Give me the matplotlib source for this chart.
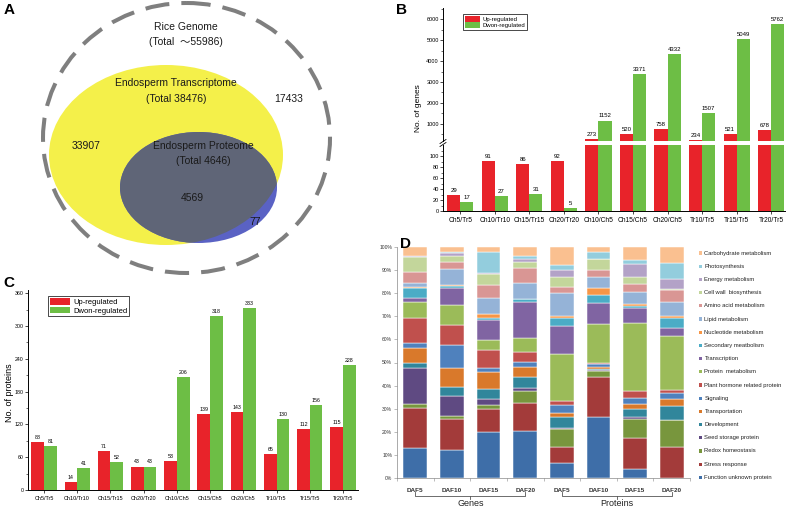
import numpy as np
import matplotlib.pyplot as plt
from matplotlib.patches import Ellipse, Rectangle
from matplotlib.ticker import MultipleLocator, FixedLocator
from matplotlib.transforms import blended_transform_factory

plt.rcParams['font.family'] = ['Liberation Sans', 'DejaVu Sans', 'Noto Sans CJK SC']

# ---- panel A: venn counts
genome_total = '55986'
transcriptome_total = '38476'
proteome_total = '4646'
genome_only = '17433'
transcript_only = '33907'
shared = '4569'
proteome_only = '77'

# ---- panel B / C: differential counts
comparisons = ['Ch5/Tr5', 'Ch10/Tr10', 'Ch15/Tr15', 'Ch20/Tr20', 'Ch10/Ch5',
               'Ch15/Ch5', 'Ch20/Ch5', 'Tr10/Tr5', 'Tr15/Tr5', 'Tr20/Tr5']
genes_up = [29, 91, 86, 92, 273, 520, 758, 234, 521, 678]
genes_down = [17, 27, 31, 5, 1152, 3371, 4332, 1507, 5049, 5762]
proteins_up = [88, 14, 71, 43, 53, 139, 143, 65, 112, 115]
proteins_down = [81, 41, 52, 43, 206, 318, 333, 130, 156, 228]

# ---- panel D: functional categories, bottom of the stack first
func_cats = ['Function unknown protein', 'Stress response', 'Redox homeostasis',
             'Seed storage protein', 'Development', 'Transportation', 'Signaling',
             'Plant hormone related protein', 'Protein  metabolism', 'Transcription',
             'Secondary meatbolism', 'Nucleotide metabolism', 'Lipid metabolism',
             'Amino acid metabolism', 'Cell wall  biosynthesis', 'Energy metabolism',
             'Photosynthesis', 'Carbohydrate metabolism']
stages = ['DAF5', 'DAF10', 'DAF15', 'DAF20', 'DAF5', 'DAF10', 'DAF15', 'DAF20']
genes_daf5 = [12.9, 17.3, 1.8, 15.5, 2.1, 6.8, 2.2, 10.8, 6.7, 2.0, 4.3, 0.3, 1.8, 4.6, 6.5, 0.3, 0.3, 3.8]
genes_daf10 = [12.1, 13.3, 1.6, 8.6, 3.9, 8.0, 10.1, 8.6, 8.7, 7.2, 1.1, 0.3, 7.0, 2.8, 2.9, 1.2, 0.3, 2.3]
genes_daf15 = [20.0, 9.7, 1.9, 2.5, 4.3, 7.6, 1.5, 7.9, 4.3, 8.7, 1.0, 1.5, 6.9, 5.7, 4.9, 0.2, 9.1, 2.3]
genes_daf20 = [20.3, 12.3, 5.2, 1.0, 5.1, 4.3, 2.1, 4.4, 6.0, 15.4, 1.3, 0.3, 6.8, 6.3, 2.8, 1.0, 1.5, 3.9]
prot_daf5 = [6.3, 7.3, 7.5, 0.5, 4.9, 1.8, 3.3, 1.7, 20.2, 12.3, 3.3, 1.0, 9.9, 2.8, 4.1, 3.1, 2.2, 7.8]
prot_daf10 = [26.3, 17.3, 2.7, 0.5, 0.4, 1.0, 1.2, 0.3, 16.9, 9.1, 3.6, 3.0, 4.8, 2.8, 4.8, 0.3, 3.0, 2.0]
prot_daf15 = [3.9, 13.6, 7.9, 1.1, 3.2, 2.2, 2.6, 3.3, 29.4, 6.3, 1.0, 0.7, 5.5, 3.3, 2.9, 5.7, 1.8, 5.6]
prot_daf20 = [0.0, 13.6, 11.4, 0.3, 5.9, 3.2, 2.3, 1.3, 23.3, 3.8, 4.0, 1.0, 6.2, 5.1, 0.4, 4.3, 7.1, 6.8]

func_colors = ['#3E6EA8', '#A33B3A', '#78963D', '#5F4A82', '#31869B', '#D9792B',
               '#4F81BD', '#C0504D', '#9BBB59', '#8064A2', '#4BACC6', '#F79646',
               '#95B3D7', '#D99694', '#C3D69B', '#B3A2C7', '#93CDDD', '#FAC090']
RED = '#E8232A'
GREEN = '#6DBE45'

W, H = 788, 508
fig = plt.figure(figsize=(W / 100, H / 100), dpi=100)


def px_axes(x0, y0, x1, y1):
    return fig.add_axes([x0 / W, 1 - y1 / H, (x1 - x0) / W, (y1 - y0) / H])


def panel_letter(x, y, s):
    fig.text(x / W, 1 - y / H, s, fontsize=11, fontweight='bold', va='top', ha='left')


# ================= A =================
ax = px_axes(0, 0, 390, 280)
ax.set_xlim(0, 390)
ax.set_ylim(280, 0)
ax.axis('off')
ax.add_patch(Ellipse((186.5, 138), 287, 270, fill=False, edgecolor='#7F7F7F',
                     lw=2.9, linestyle=(0, (6, 3))))
yellow = Ellipse((166, 155), 234, 180, facecolor='#F4F04A', edgecolor='none')
ax.add_patch(yellow)
ax.add_patch(Ellipse((198.5, 187.5), 157, 111, facecolor='#5A62C4', edgecolor='none'))
grey = Ellipse((198.5, 187.5), 157, 111, facecolor='#5F6577', edgecolor='none')
ax.add_patch(grey)
grey.set_clip_path(yellow)
tk = dict(fontsize=7.5, ha='center', va='center', color='#1a1a1a')
ax.text(186, 27, 'Rice Genome', **tk)
ax.text(186, 42, '(Total  ～' + genome_total + ')', **tk)
ax.text(176, 83, 'Endosperm Transcriptome', **tk)
ax.text(176, 99, '(Total ' + transcriptome_total + ')', **tk)
ax.text(289, 99, genome_only, **tk)
ax.text(86, 146, transcript_only, **tk)
ax.text(203, 146, 'Endosperm Proteome', **tk)
ax.text(203, 161, '(Total ' + proteome_total + ')', **tk)
ax.text(192, 198, shared, **tk)
ax.text(255, 222, proteome_only, **tk)
panel_letter(4, 3, 'A')

# ================= B (broken axis) =================
x = np.arange(len(comparisons))
bw = 0.38
ax_hi = px_axes(443, 8, 785, 141)
ax_lo = px_axes(443, 145, 785, 211)
for a in (ax_hi, ax_lo):
    a.bar(x - bw / 2, genes_up, bw, color=RED, label='Up-regulated')
    a.bar(x + bw / 2, genes_down, bw, color=GREEN, label='Dwon-regulated')
    a.set_xlim(-0.5, 9.4)
    for s in ('top', 'right'):
        a.spines[s].set_visible(False)
    a.spines['left'].set_linewidth(0.7)
    a.tick_params(axis='y', labelsize=4, length=2, width=0.5, pad=1)
    a.tick_params(axis='y', which='minor', length=1.2, width=0.4)
ax_hi.set_ylim(170, 6550)
ax_hi.yaxis.set_major_locator(FixedLocator([1000, 2000, 3000, 4000, 5000, 6000]))
ax_hi.yaxis.set_minor_locator(MultipleLocator(500))
ax_hi.spines['bottom'].set_visible(False)
ax_hi.set_xticks([])
ax_lo.set_ylim(0, 121)
ax_lo.yaxis.set_major_locator(FixedLocator([0, 20, 40, 60, 80, 100]))
ax_lo.yaxis.set_minor_locator(FixedLocator([10, 30, 50, 70, 90, 110]))
ax_lo.spines['bottom'].set_linewidth(0.7)
ax_lo.set_xticks(x)
ax_lo.set_xticklabels(comparisons, fontsize=4.8)
ax_lo.tick_params(axis='x', length=2, width=0.5, pad=2)
for xi, v in zip(x - bw / 2, genes_up):
    tgt = ax_hi if v > 150 else ax_lo
    tgt.annotate(str(v), (xi, v), xytext=(0, 1.5), textcoords='offset points',
                 ha='center', va='bottom', fontsize=4.3)
for xi, v in zip(x + bw / 2, genes_down):
    tgt = ax_hi if v > 150 else ax_lo
    tgt.annotate(str(v), (xi, v), xytext=(0, 1.5), textcoords='offset points',
                 ha='center', va='bottom', fontsize=4.3)
# break marks on the axis
for yb in (141.5, 144.5):
    fig.add_artist(plt.Line2D([440 / W, 446 / W], [1 - (yb + 2) / H, 1 - (yb - 2) / H],
                              color='black', lw=0.6))
ax_hi.legend(loc='upper left', bbox_to_anchor=(0.05, 0.975), fontsize=4.3,
             frameon=True, fancybox=False, edgecolor='black', framealpha=1,
             handlelength=2.6, handleheight=1.1, borderpad=0.25, labelspacing=0.1,
             handletextpad=0.4).get_frame().set_linewidth(0.5)
fig.text(418 / W, 1 - 108 / H, 'No. of genes', rotation=90, fontsize=6,
         ha='center', va='center')
panel_letter(396, 3, 'B')

# ================= C =================
ax_c = px_axes(28, 290, 358, 490)
ax_c.bar(x - bw / 2, proteins_up, bw, color=RED, label='Up-regulated')
ax_c.bar(x + bw / 2, proteins_down, bw, color=GREEN, label='Dwon-regulated')
ax_c.set_xlim(-0.48, 9.45)
ax_c.set_ylim(0, 366)
ax_c.yaxis.set_major_locator(MultipleLocator(60))
ax_c.yaxis.set_minor_locator(MultipleLocator(30))
for s in ('top', 'right'):
    ax_c.spines[s].set_visible(False)
for s in ('left', 'bottom'):
    ax_c.spines[s].set_linewidth(0.7)
ax_c.tick_params(axis='y', labelsize=3.8, length=2, width=0.5, pad=1)
ax_c.tick_params(axis='y', which='minor', length=1.2, width=0.4)
ax_c.set_xticks(x)
ax_c.set_xticklabels(comparisons, fontsize=4)
ax_c.tick_params(axis='x', length=2, width=0.5, pad=2)
for xi, v in zip(x - bw / 2, proteins_up):
    ax_c.annotate(str(v), (xi, v), xytext=(0, 1.5), textcoords='offset points',
                  ha='center', va='bottom', fontsize=3.8)
for xi, v in zip(x + bw / 2, proteins_down):
    ax_c.annotate(str(v), (xi, v), xytext=(0, 1.5), textcoords='offset points',
                  ha='center', va='bottom', fontsize=3.8)
ax_c.legend(loc='upper left', bbox_to_anchor=(0.05, 0.99), fontsize=5.5,
            frameon=True, fancybox=False, edgecolor='black', framealpha=1,
            handlelength=2.6, handleheight=1.0, borderpad=0.25, labelspacing=0.1,
            handletextpad=0.4).get_frame().set_linewidth(0.5)
fig.text(10 / W, 1 - 393 / H, 'No. of proteins', rotation=90, fontsize=6.5,
         ha='center', va='center')
panel_letter(3, 276, 'C')

# ================= D =================
ax_d = px_axes(397, 247, 690, 478)
profiles = np.array([genes_daf5, genes_daf10, genes_daf15, genes_daf20,
                     prot_daf5, prot_daf10, prot_daf15, prot_daf20])
xd = np.arange(len(stages))
bottom = np.zeros(len(stages))
for k, (name, col) in enumerate(zip(func_cats, func_colors)):
    ax_d.bar(xd, profiles[:, k], 0.65, bottom=bottom, color=col,
             edgecolor='white', linewidth=0.35)
    bottom += profiles[:, k]
ax_d.set_xlim(-0.5, 7.5)
ax_d.set_ylim(0, 100)
ax_d.yaxis.set_major_locator(MultipleLocator(10))
ax_d.set_yticklabels([f'{int(t)}%' for t in ax_d.get_yticks()])
ax_d.tick_params(axis='y', labelsize=3.6, length=2, width=0.4, color='#888888',
                 pad=1.5, labelcolor='#333333')
ax_d.set_xticks(xd)
ax_d.set_xticklabels(stages, fontsize=4.6, fontweight='bold', color='#333333')
ax_d.tick_params(axis='x', length=0, pad=7)
ax_d.xaxis.set_minor_locator(FixedLocator(np.arange(-0.5, 8, 1)))
ax_d.tick_params(axis='x', which='minor', length=2, width=0.4, color='#888888')
for s in ('top', 'right'):
    ax_d.spines[s].set_visible(False)
for s in ('left', 'bottom'):
    ax_d.spines[s].set_color('#888888')
    ax_d.spines[s].set_linewidth(0.5)
tr = blended_transform_factory(ax_d.transData, ax_d.transAxes)
for x0, x1, label in ((0, 3, 'Genes'), (4, 7, 'Proteins')):
    xm = (x0 + x1) / 2
    yb = -0.078
    ax_d.plot([x0, x0, x1, x1], [yb + 0.018, yb, yb, yb + 0.018], color='#555555',
              lw=0.6, transform=tr, clip_on=False)
    ax_d.plot([xm, xm], [yb, yb - 0.015], color='#555555', lw=0.6, transform=tr,
              clip_on=False)
    ax_d.text(xm, -0.11, label, transform=tr, ha='center', va='center', fontsize=6.5,
              color='#222222')
for i, (name, col) in enumerate(zip(func_cats[::-1], func_colors[::-1])):
    yy = 253 + i * 13.2
    fig.add_artist(Rectangle((699 / W, 1 - (yy + 1.6) / H), 3.2 / W, 3.2 / H,
                             facecolor=col, edgecolor='none', transform=fig.transFigure))
    fig.text(704.5 / W, 1 - yy / H, name, fontsize=4.2, va='center', ha='left',
             color='#222222')
panel_letter(400, 237, 'D')

fig.savefig('out.png', dpi=100)
